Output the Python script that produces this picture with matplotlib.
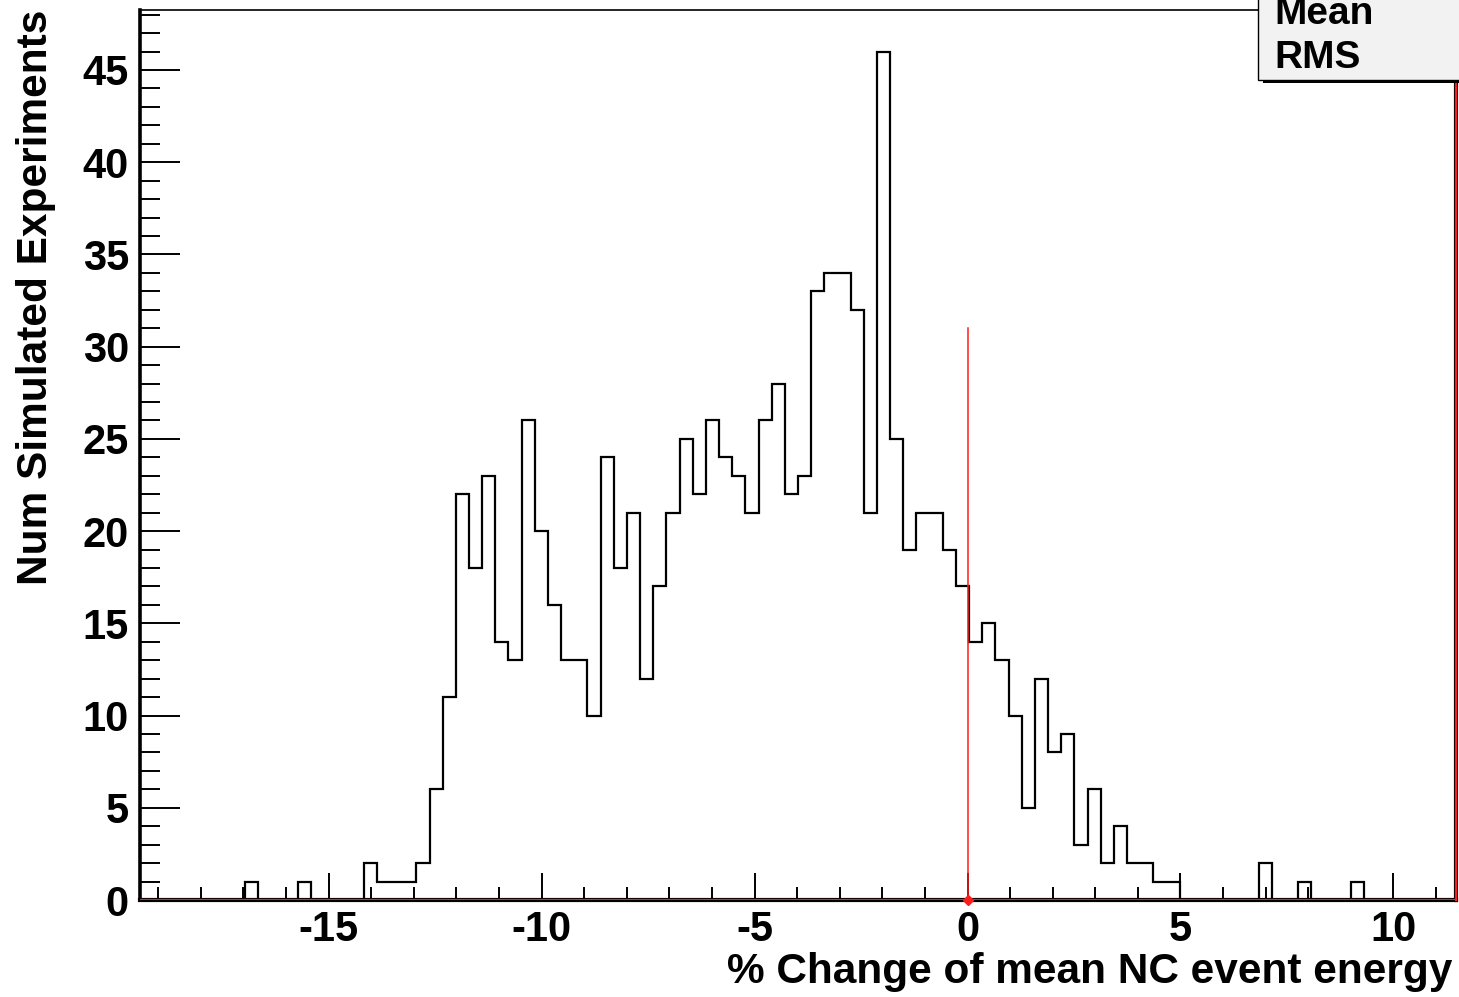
import matplotlib
matplotlib.use("Agg")
import matplotlib.pyplot as plt
import numpy as np
from matplotlib.patches import Rectangle
from matplotlib.ticker import MultipleLocator

# histogram: 100 bins between XMIN and XMAX
XMIN, XMAX = -19.43, 11.47
counts = [0, 0, 0, 0, 0, 0, 0, 0, 1, 0,
          0, 0, 1, 0, 0, 0, 0, 2, 1, 1,
          1, 2, 6, 11, 22, 18, 23, 14, 13, 26,
          20, 16, 13, 13, 10, 24, 18, 21, 12, 17,
          21, 25, 22, 26, 24, 23, 21, 26, 28, 22,
          23, 33, 34, 34, 32, 21, 46, 25, 19, 21,
          21, 19, 17, 14, 15, 13, 10, 5, 12, 8,
          9, 3, 6, 2, 4, 2, 2, 1, 1, 0,
          0, 0, 0, 0, 0, 2, 0, 0, 1, 0,
          0, 0, 1, 0, 0, 0, 0, 0, 0, 0]
edges = np.linspace(XMIN, XMAX, len(counts) + 1)

marker_x = 0.0
marker_top = 31
YMAX = 48.25

x_label = "% Change of mean NC event energy"
y_label = "Num Simulated Experiments"
stat_names = ["Mean", "RMS"]

RED = "#ff1a1a"
W, H = 1459, 997
FS = 30.5

plt.rcParams.update({
    "font.family": ["Liberation Sans", "DejaVu Sans"],
    "font.weight": "bold",
    "font.size": 30,
    "axes.unicode_minus": False,
})

fig = plt.figure(figsize=(W / 100, H / 100), dpi=100)
ax = fig.add_axes([140 / W, 1 - 900 / H, (1456 - 140) / W, 890 / H])

ax.stairs(counts, edges, color="black", lw=1.6, zorder=3)

ax.set_xlim(XMIN, XMAX)
ax.set_ylim(0, YMAX)

# red reference line at zero change
ax.plot([marker_x, marker_x], [0, marker_top], color=RED, lw=1.1, zorder=4)
ax.plot([marker_x], [0], marker="D", ms=5, color=RED, zorder=5, clip_on=False)
ax.axhline(0, color=RED, lw=1.6, zorder=6)
ax.axvline(XMAX, color=RED, lw=1.6, zorder=6, clip_on=False)

ax.xaxis.set_major_locator(MultipleLocator(5))
ax.xaxis.set_minor_locator(MultipleLocator(1))
ax.yaxis.set_major_locator(MultipleLocator(5))
ax.yaxis.set_minor_locator(MultipleLocator(1))
ax.tick_params(axis="x", which="major", direction="in", length=19.5, width=1.4, pad=7)
ax.tick_params(axis="x", which="minor", direction="in", length=9.7, width=1.4)
ax.tick_params(axis="y", which="major", direction="in", length=28.5, width=1.4, pad=8)
ax.tick_params(axis="y", which="minor", direction="in", length=14.2, width=1.4)
for lab in ax.get_xticklabels() + ax.get_yticklabels():
    lab.set_fontweight("bold")

ax.spines["left"].set_linewidth(2.6)
ax.spines["bottom"].set_linewidth(3.0)
ax.spines["top"].set_linewidth(1.2)
ax.spines["right"].set_linewidth(3.0)

fig.text(1452 / W, 1 - 972 / H, x_label, ha="right", va="center",
         fontsize=FS, fontweight="bold")
fig.text(36 / W, 1 - 10 / H, y_label, ha="center", va="top", rotation=90,
         fontsize=FS, fontweight="bold")

# stats box (cut off by the figure edge, as in the original)
fig.patches.append(Rectangle((1263 / W, 1 - 83 / H), 300 / W, 90 / H,
                             transform=fig.transFigure, facecolor="black",
                             edgecolor="none", zorder=9))
fig.patches.append(Rectangle((1258 / W, 1 - 80 / H), 300 / W, 90 / H,
                             transform=fig.transFigure, facecolor="#f2f2f2",
                             edgecolor="black", lw=1.0, zorder=10))
for i, name in enumerate(stat_names):
    fig.text(1274 / W, 1 - (14 + 44 * i) / H, name, ha="left", va="center",
             fontsize=28, fontweight="bold", zorder=11)

fig.savefig("out.png", dpi=100)
